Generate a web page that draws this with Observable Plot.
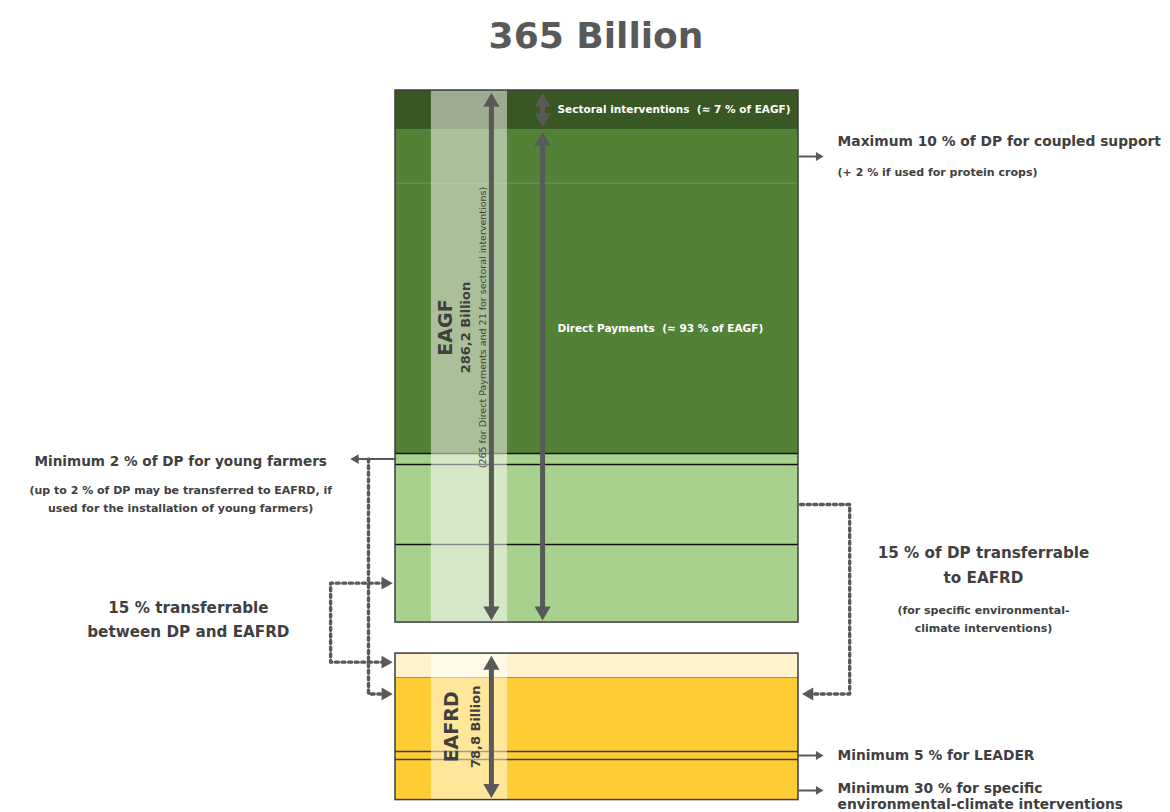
<!DOCTYPE html>
<html><head><meta charset="utf-8">
<script src="https://cdn.jsdelivr.net/npm/d3@7"></script>
<script src="https://cdn.jsdelivr.net/npm/@observablehq/plot@0.6"></script>
<style>
html,body{margin:0;padding:0;background:#fff;}
body{width:1170px;height:812px;overflow:hidden;font-family:"DejaVu Sans",sans-serif;}
#title{width:1170px;height:70px;box-sizing:border-box;padding-left:22px;display:flex;align-items:center;justify-content:center;font-size:36px;font-weight:bold;color:#595959;}
g[aria-label="fund-box"] rect{filter:drop-shadow(2px 3px 3px rgba(0,0,0,0.45));}
</style></head>
<body><div id="title"></div><div id="chart"></div>
<script>
// ---------------- DATA (billion €) ----------------
const funds = ["EAGF", "EAFRD"];
const fundTotals = [286.2, 78.8];
const dpTotal = 265;
const sectoralTotal = 21;

const eagfSegments = ["Sectoral interventions", "Coupled support", "Other direct payments",
  "Young farmers", "Transferable between DP and EAFRD", "Transferable to EAFRD"];
const eagfValues = [21, 29.0, 145.3, 5.9, 43.0, 42.0];

const eafrdSegments = ["Transferred from DP", "Rural development", "LEADER",
  "Environmental-climate interventions"];
const eafrdValues = [12.9, 39.8, 4.3, 21.8];

// ---------------- LAYOUT ----------------
const FONT = '"DejaVu Sans", sans-serif';
const GAP = 16.7;          // vertical gap between the fund boxes, in billions
const PX_PER_B = 1.859;
const TOP = 20;
const INK = "#404040", ARROW = "#595959";

const fmt = v => String(v).replace(".", ",");
document.getElementById("title").textContent = `${d3.sum(fundTotals)} Billion`;

function stack(fund, names, values, start) {
  let acc = start;
  return names.map((n, i) => {
    const y1 = acc; acc += values[i];
    return {fund, segment: n, y1, y2: acc, mid: (y1 + acc) / 2, x1: 0, x2: 100};
  });
}
const eafrdStart = fundTotals[0] + GAP;
const segRows = [...stack("EAGF", eagfSegments, eagfValues, 0),
                 ...stack("EAFRD", eafrdSegments, eafrdValues, eafrdStart)];
const seg = Object.fromEntries(segRows.map(d => [d.segment, d]));
const fundRows = funds.map((f, i) => ({
  fund: f, x1: 0, x2: 100,
  y1: i === 0 ? 0 : eafrdStart,
  y2: i === 0 ? fundTotals[0] : eafrdStart + fundTotals[1]
}));
fundRows.forEach(d => d.mid = (d.y1 + d.y2) / 2);
const yMax = fundRows[1].y2;

const fillOf = {
  "Sectoral interventions": "#385723", "Coupled support": "#538135", "Other direct payments": "#538135",
  "Young farmers": "#a9d18e", "Transferable between DP and EAFRD": "#a9d18e", "Transferable to EAFRD": "#a9d18e",
  "Transferred from DP": "#fff2cc", "Rural development": "#ffcc33", "LEADER": "#ffcc33",
  "Environmental-climate interventions": "#ffcc33"
};
const topLine = {
  "Other direct payments": ["#7a7f76", 1.3],
  "Young farmers": ["#111", 1.6],
  "Transferable between DP and EAFRD": ["#111", 1.6],
  "Transferable to EAFRD": ["#111", 1.6],
  "Rural development": ["#8a8a8a", 1],
  "LEADER": ["#3a3a3a", 1.6],
  "Environmental-climate interventions": ["#3a3a3a", 1.6]
};
const lines = segRows.filter(d => topLine[d.segment]).map(d => ({
  y: d.y1, stroke: topLine[d.segment][0], w: topLine[d.segment][1]
}));

// pale column band behind the fund labels
const column = fundRows.map(d => ({...d, x1: 8.9, x2: 27.8}));

// double-headed span arrows
const spans = [
  {x: 23.8, y1: fundRows[0].y1, y2: fundRows[0].y2},
  {x: 36.5, y1: seg["Coupled support"].y1, y2: fundRows[0].y2},
  {x: 36.5, y1: fundRows[0].y1, y2: seg["Sectoral interventions"].y2},
  {x: 23.8, y1: fundRows[1].y1, y2: fundRows[1].y2}
];

// small solid side arrows
const sideRight = [
  {x1: 100, x2: 106.2, y: seg["Coupled support"].mid},
  {x1: 100, x2: 106.2, y: seg["LEADER"].mid},
  {x1: 100, x2: 106.2, y: 376.5}
];
const sideLeft = [{x1: 0, x2: -11.2, y: seg["Young farmers"].mid}];

// dotted transfer paths
const yfArrowY = eafrdStart + 21.7;
const dotted = [
  {id: "yf", pts: [[-6.7, seg["Young farmers"].mid], [-6.7, yfArrowY], [-2.5, yfArrowY]]},
  {id: "lb", pts: [[-2.5, 265], [-16.1, 265], [-16.1, 307.5], [-2.5, 307.5]]},
  {id: "rb", pts: [[100.5, seg["Transferable between DP and EAFRD"].mid], [112.7, seg["Transferable between DP and EAFRD"].mid], [112.7, yfArrowY], [103, yfArrowY]]}
];
const dottedRows = dotted.flatMap(p => p.pts.map(([x, y]) => ({id: p.id, x, y})));
const dottedHeadsRight = [{x: -0.7, y: yfArrowY}, {x: -0.7, y: 265}, {x: -0.7, y: 307.5}];
const dottedHeadsLeft = [{x: 100.9, y: yfArrowY}];

// texts
const whiteLabels = [
  {text: `Sectoral interventions  (≈ ${Math.round(sectoralTotal / fundTotals[0] * 100)} % of EAGF)`, x: 40.2, y: seg["Sectoral interventions"].mid},
  {text: `Direct Payments  (≈ ${Math.round(dpTotal / fundTotals[0] * 100)} % of EAGF)`, x: 40.2, y: 128}
];
const rightHead = [
  {text: "Maximum 10 % of DP for coupled support", x: 109.7, y: 27.4},
  {text: "Minimum 5 % for LEADER", x: 109.7, y: seg["LEADER"].mid},
  {text: "Minimum 30 % for specific", x: 109.7, y: 375.3},
  {text: "environmental-climate interventions", x: 109.7, y: 384}
];
const rightSub = [{text: "(+ 2 % if used for protein crops)", x: 109.7, y: 44.1}];
const leftHead = [{text: "Minimum 2 % of DP for young farmers", x: -53.3, y: 199.6}];
const leftSub = [
  {text: "(up to 2 % of DP may be transferred to EAFRD, if", x: -53.3, y: 215.2},
  {text: "used for the installation of young farmers)", x: -53.3, y: 224.9}
];
const bigLabels = [
  {text: "15 % transferrable", x: -51.4, y: 278.6},
  {text: "between DP and EAFRD", x: -51.4, y: 291.6},
  {text: "15 % of DP transferrable", x: 145.9, y: 249.1},
  {text: "to EAFRD", x: 145.9, y: 262.5}
];
const midSub = [
  {text: "(for specific environmental-", x: 145.9, y: 279.7},
  {text: "climate interventions)", x: 145.9, y: 289.4}
];
const fundNames = [
  {text: funds[0], x: 12.4, y: 127.5},
  {text: funds[1], x: 14.1, y: fundRows[1].mid}
];
const fundAmounts = [
  {text: `${fmt(fundTotals[0])} Billion`, x: 17.4, y: 127.5},
  {text: `${fmt(fundTotals[1])} Billion`, x: 19.9, y: fundRows[1].mid}
];
const fundNotes = [
  {text: `(${dpTotal} for Direct Payments and ${sectoralTotal} for sectoral interventions)`, x: 21.8, y: 127.5}
];

const txt = (data, o) => Plot.text(data, {x: "x", y: "y", text: "text", fill: INK, fontWeight: "bold", ...o});

const chart = Plot.plot({
  width: 1170, height: 742, margin: 0,
  x: {domain: [0, 100], range: [395, 798], axis: null},
  y: {domain: [0, yMax], range: [TOP, TOP + yMax * PX_PER_B], axis: null},
  style: {fontFamily: FONT, background: "white", overflow: "visible"},
  marks: [
    Plot.rect(fundRows, {x1: "x1", x2: "x2", y1: "y1", y2: "y2", fill: "white", ariaLabel: "fund-box"}),
    Plot.rect(segRows, {x1: "x1", x2: "x2", y1: "y1", y2: "y2", fill: d => fillOf[d.segment]}),
    Plot.ruleY(lines, {x1: 0, x2: 100, y: "y", stroke: "stroke", strokeWidth: "w"}),
    Plot.rect(column, {x1: "x1", x2: "x2", y1: "y1", y2: "y2", fill: "white", fillOpacity: 0.5}),
    Plot.rect(fundRows, {x1: "x1", x2: "x2", y1: "y1", y2: "y2", fill: "none", stroke: "#3d3d3d", strokeWidth: 1.5}),

    // span arrows
    Plot.arrow(spans, {x1: "x", x2: "x", y1: "y1", y2: "y2", stroke: ARROW, strokeWidth: 5, headLength: 0, insetStart: 10, insetEnd: 10}),
    Plot.dot(spans, {x: "x", y: "y1", symbol: "triangle", r: 6, fill: ARROW, stroke: "none", dy: 11.5}),
    Plot.dot(spans, {x: "x", y: "y2", symbol: "triangle", r: 6, fill: ARROW, stroke: "none", rotate: 180, dy: -11.5}),

    // side solid arrows
    Plot.arrow(sideRight, {x1: "x1", x2: "x2", y1: "y", y2: "y", stroke: ARROW, strokeWidth: 2, headLength: 0, insetEnd: 4}),
    Plot.dot(sideRight, {x: "x2", y: "y", symbol: "triangle", r: 3.3, fill: ARROW, stroke: "none", rotate: 90, dx: -5}),
    Plot.arrow(sideLeft, {x1: "x1", x2: "x2", y1: "y", y2: "y", stroke: ARROW, strokeWidth: 2, headLength: 0, insetEnd: 4}),
    Plot.dot(sideLeft, {x: "x2", y: "y", symbol: "triangle", r: 3.6, fill: ARROW, stroke: "none", rotate: -90, dx: 5.5}),

    // dotted transfer paths
    Plot.line(dottedRows, {x: "x", y: "y", z: "id", stroke: ARROW, strokeWidth: 3.4, strokeDasharray: "3,3.6", curve: "linear"}),
    Plot.dot(dottedHeadsRight, {x: "x", y: "y", symbol: "triangle", r: 4.8, fill: ARROW, stroke: "none", rotate: 90, dx: -7.4}),
    Plot.dot(dottedHeadsLeft, {x: "x", y: "y", symbol: "triangle", r: 4.8, fill: ARROW, stroke: "none", rotate: -90, dx: 7.4}),

    // texts
    txt(whiteLabels, {fill: "white", fontSize: 10.5, textAnchor: "start"}),
    txt(rightHead, {fontSize: 13.8, textAnchor: "start"}),
    txt(rightSub, {fontSize: 11, textAnchor: "start"}),
    txt(leftHead, {fontSize: 13.6}),
    txt(leftSub, {fontSize: 11}),
    txt(bigLabels, {fontSize: 15.2}),
    txt(midSub, {fontSize: 11}),
    txt(fundNames, {fontSize: 19, rotate: -90}),
    txt(fundAmounts, {fontSize: 13, rotate: -90}),
    txt(fundNotes, {fontSize: 9.5, fontWeight: "normal", rotate: -90})
  ]
});
document.getElementById("chart").appendChild(chart);
</script>
</body></html>
